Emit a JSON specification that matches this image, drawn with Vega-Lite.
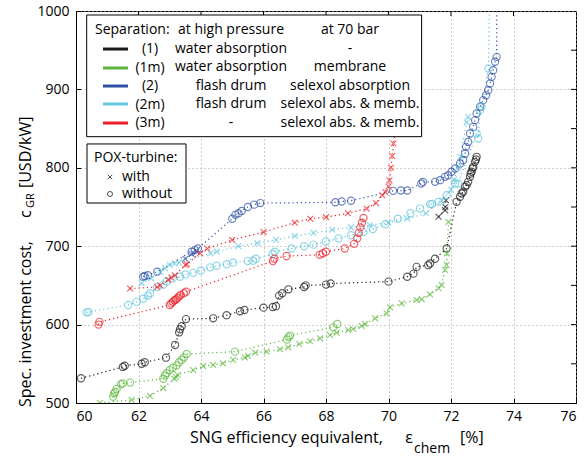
{
  "$schema": "https://vega.github.io/schema/vega-lite/v6.json",
  "width": 500,
  "height": 392,
  "autosize": "none",
  "padding": {"left": 76, "top": 11, "right": 8, "bottom": 54},
  "background": "white",
  "config": {
    "font": "Open Sans",
    "view": {"stroke": "black", "strokeWidth": 1},
    "axis": {
      "domainColor": "black",
      "tickColor": "black",
      "tickSize": -5,
      "labelFontSize": 14,
      "labelColor": "black",
      "gridColor": "#9a9a9a",
      "gridDash": [1, 3],
      "gridWidth": 1
    },
    "text": {"font": "Open Sans", "color": "black"}
  },
  "datasets": {
    "xticks": [{"t": 62}, {"t": 64}, {"t": 66}, {"t": 68}, {"t": 70}, {"t": 72}, {"t": 74}],
    "yticks": [{"t": 550}, {"t": 600}, {"t": 650}, {"t": 700}, {"t": 750}, {"t": 800}, {"t": 850}, {"t": 900}, {"t": 950}],
    "runs": [
      {"eff": 60.16, "cost": 531.5, "cfg": "1", "pox": "without"},
      {"eff": 61.5, "cost": 546, "cfg": "1", "pox": "without"},
      {"eff": 61.56, "cost": 547.5, "cfg": "1", "pox": "without"},
      {"eff": 62.1, "cost": 550, "cfg": "1", "pox": "without"},
      {"eff": 62.2, "cost": 552, "cfg": "1", "pox": "without"},
      {"eff": 62.88, "cost": 557.8, "cfg": "1", "pox": "without"},
      {"eff": 63.17, "cost": 574, "cfg": "1", "pox": "without"},
      {"eff": 63.3, "cost": 590, "cfg": "1", "pox": "without"},
      {"eff": 63.33, "cost": 594, "cfg": "1", "pox": "without"},
      {"eff": 63.38, "cost": 598, "cfg": "1", "pox": "without"},
      {"eff": 63.52, "cost": 607, "cfg": "1", "pox": "without"},
      {"eff": 64.39, "cost": 608, "cfg": "1", "pox": "without"},
      {"eff": 64.82, "cost": 612, "cfg": "1", "pox": "without"},
      {"eff": 65.25, "cost": 617, "cfg": "1", "pox": "without"},
      {"eff": 65.39, "cost": 618.6, "cfg": "1", "pox": "without"},
      {"eff": 66.0, "cost": 621.6, "cfg": "1", "pox": "without"},
      {"eff": 66.3, "cost": 622.5, "cfg": "1", "pox": "without"},
      {"eff": 66.4, "cost": 623.5, "cfg": "1", "pox": "without"},
      {"eff": 66.5, "cost": 637, "cfg": "1", "pox": "without"},
      {"eff": 66.6, "cost": 640, "cfg": "1", "pox": "without"},
      {"eff": 66.8, "cost": 645, "cfg": "1", "pox": "without"},
      {"eff": 67.3, "cost": 648, "cfg": "1", "pox": "without"},
      {"eff": 67.35, "cost": 650, "cfg": "1", "pox": "without"},
      {"eff": 68.0, "cost": 651, "cfg": "1", "pox": "without"},
      {"eff": 68.15, "cost": 652.5, "cfg": "1", "pox": "without"},
      {"eff": 70.0, "cost": 654.8, "cfg": "1", "pox": "without"},
      {"eff": 70.6, "cost": 661, "cfg": "1", "pox": "without"},
      {"eff": 70.8, "cost": 665, "cfg": "1", "pox": "without"},
      {"eff": 70.9, "cost": 673.6, "cfg": "1", "pox": "without"},
      {"eff": 71.27, "cost": 675.8, "cfg": "1", "pox": "without"},
      {"eff": 71.33, "cost": 678, "cfg": "1", "pox": "without"},
      {"eff": 71.49, "cost": 684, "cfg": "1", "pox": "without"},
      {"eff": 71.86, "cost": 697, "cfg": "1", "pox": "without"},
      {"eff": 72.18, "cost": 756.6, "cfg": "1", "pox": "without"},
      {"eff": 72.29, "cost": 763, "cfg": "1", "pox": "without"},
      {"eff": 72.34, "cost": 767.2, "cfg": "1", "pox": "without"},
      {"eff": 72.39, "cost": 769.4, "cfg": "1", "pox": "without"},
      {"eff": 72.45, "cost": 775.8, "cfg": "1", "pox": "without"},
      {"eff": 72.5, "cost": 777.9, "cfg": "1", "pox": "without"},
      {"eff": 72.55, "cost": 782.1, "cfg": "1", "pox": "without"},
      {"eff": 72.61, "cost": 788.5, "cfg": "1", "pox": "without"},
      {"eff": 72.63, "cost": 792.7, "cfg": "1", "pox": "without"},
      {"eff": 72.66, "cost": 794.9, "cfg": "1", "pox": "without"},
      {"eff": 72.69, "cost": 799.1, "cfg": "1", "pox": "without"},
      {"eff": 72.71, "cost": 801.2, "cfg": "1", "pox": "without"},
      {"eff": 72.77, "cost": 807.6, "cfg": "1", "pox": "without"},
      {"eff": 72.8, "cost": 810.6, "cfg": "1", "pox": "without"},
      {"eff": 72.82, "cost": 814, "cfg": "1", "pox": "without"},

      {"eff": 71.6, "cost": 737.5, "cfg": "1", "pox": "with"},
      {"eff": 71.81, "cost": 746, "cfg": "1", "pox": "with"},
      {"eff": 71.82, "cost": 750, "cfg": "1", "pox": "with"},
      {"eff": 71.84, "cost": 758.7, "cfg": "1", "pox": "with"},

      {"eff": 61.19, "cost": 508, "cfg": "1m", "pox": "without"},
      {"eff": 61.22, "cost": 512, "cfg": "1m", "pox": "without"},
      {"eff": 61.25, "cost": 514, "cfg": "1m", "pox": "without"},
      {"eff": 61.3, "cost": 518, "cfg": "1m", "pox": "without"},
      {"eff": 61.44, "cost": 524, "cfg": "1m", "pox": "without"},
      {"eff": 61.5, "cost": 525, "cfg": "1m", "pox": "without"},
      {"eff": 61.73, "cost": 526, "cfg": "1m", "pox": "without"},
      {"eff": 62.79, "cost": 531, "cfg": "1m", "pox": "without"},
      {"eff": 62.85, "cost": 535, "cfg": "1m", "pox": "without"},
      {"eff": 62.9, "cost": 538, "cfg": "1m", "pox": "without"},
      {"eff": 63.0, "cost": 542, "cfg": "1m", "pox": "without"},
      {"eff": 63.1, "cost": 545, "cfg": "1m", "pox": "without"},
      {"eff": 63.22, "cost": 548, "cfg": "1m", "pox": "without"},
      {"eff": 63.3, "cost": 552, "cfg": "1m", "pox": "without"},
      {"eff": 63.38, "cost": 555, "cfg": "1m", "pox": "without"},
      {"eff": 63.45, "cost": 558, "cfg": "1m", "pox": "without"},
      {"eff": 63.54, "cost": 562.5, "cfg": "1m", "pox": "without"},
      {"eff": 65.09, "cost": 565.5, "cfg": "1m", "pox": "without"},
      {"eff": 66.75, "cost": 581, "cfg": "1m", "pox": "without"},
      {"eff": 66.8, "cost": 584, "cfg": "1m", "pox": "without"},
      {"eff": 66.85, "cost": 586, "cfg": "1m", "pox": "without"},
      {"eff": 68.23, "cost": 596.5, "cfg": "1m", "pox": "without"},
      {"eff": 68.36, "cost": 600.7, "cfg": "1m", "pox": "without"},

      {"eff": 60.77, "cost": 500, "cfg": "1m", "pox": "with"},
      {"eff": 61.78, "cost": 504, "cfg": "1m", "pox": "with"},
      {"eff": 62.37, "cost": 509, "cfg": "1m", "pox": "with"},
      {"eff": 62.79, "cost": 519, "cfg": "1m", "pox": "with"},
      {"eff": 63.15, "cost": 531, "cfg": "1m", "pox": "with"},
      {"eff": 63.2, "cost": 533, "cfg": "1m", "pox": "with"},
      {"eff": 63.25, "cost": 536, "cfg": "1m", "pox": "with"},
      {"eff": 63.75, "cost": 542, "cfg": "1m", "pox": "with"},
      {"eff": 64.07, "cost": 547, "cfg": "1m", "pox": "with"},
      {"eff": 64.39, "cost": 548.5, "cfg": "1m", "pox": "with"},
      {"eff": 64.7, "cost": 550.6, "cfg": "1m", "pox": "with"},
      {"eff": 65.03, "cost": 555, "cfg": "1m", "pox": "with"},
      {"eff": 65.4, "cost": 558, "cfg": "1m", "pox": "with"},
      {"eff": 65.5, "cost": 560, "cfg": "1m", "pox": "with"},
      {"eff": 65.73, "cost": 564.2, "cfg": "1m", "pox": "with"},
      {"eff": 66.1, "cost": 565.5, "cfg": "1m", "pox": "with"},
      {"eff": 66.53, "cost": 568.5, "cfg": "1m", "pox": "with"},
      {"eff": 66.79, "cost": 571, "cfg": "1m", "pox": "with"},
      {"eff": 67.15, "cost": 575.3, "cfg": "1m", "pox": "with"},
      {"eff": 67.49, "cost": 578.7, "cfg": "1m", "pox": "with"},
      {"eff": 67.81, "cost": 582.5, "cfg": "1m", "pox": "with"},
      {"eff": 68.13, "cost": 586.7, "cfg": "1m", "pox": "with"},
      {"eff": 68.34, "cost": 589.7, "cfg": "1m", "pox": "with"},
      {"eff": 68.71, "cost": 593.1, "cfg": "1m", "pox": "with"},
      {"eff": 68.87, "cost": 594.4, "cfg": "1m", "pox": "with"},
      {"eff": 69.14, "cost": 598.2, "cfg": "1m", "pox": "with"},
      {"eff": 69.25, "cost": 600.8, "cfg": "1m", "pox": "with"},
      {"eff": 69.57, "cost": 608, "cfg": "1m", "pox": "with"},
      {"eff": 69.94, "cost": 614.4, "cfg": "1m", "pox": "with"},
      {"eff": 70.05, "cost": 622, "cfg": "1m", "pox": "with"},
      {"eff": 70.42, "cost": 627.1, "cfg": "1m", "pox": "with"},
      {"eff": 70.9, "cost": 631.4, "cfg": "1m", "pox": "with"},
      {"eff": 71.06, "cost": 632.2, "cfg": "1m", "pox": "with"},
      {"eff": 71.33, "cost": 638.6, "cfg": "1m", "pox": "with"},
      {"eff": 71.6, "cost": 646.3, "cfg": "1m", "pox": "with"},
      {"eff": 71.7, "cost": 650.5, "cfg": "1m", "pox": "with"},
      {"eff": 71.81, "cost": 669.6, "cfg": "1m", "pox": "with"},
      {"eff": 71.86, "cost": 676, "cfg": "1m", "pox": "with"},
      {"eff": 71.87, "cost": 690.9, "cfg": "1m", "pox": "with"},
      {"eff": 71.92, "cost": 731, "cfg": "1m", "pox": "with"},

      {"eff": 62.15, "cost": 661, "cfg": "2", "pox": "without"},
      {"eff": 62.2, "cost": 662, "cfg": "2", "pox": "without"},
      {"eff": 62.3, "cost": 663, "cfg": "2", "pox": "without"},
      {"eff": 62.6, "cost": 667.5, "cfg": "2", "pox": "without"},
      {"eff": 63.7, "cost": 693, "cfg": "2", "pox": "without"},
      {"eff": 63.8, "cost": 695, "cfg": "2", "pox": "without"},
      {"eff": 63.9, "cost": 697, "cfg": "2", "pox": "without"},
      {"eff": 65.0, "cost": 735, "cfg": "2", "pox": "without"},
      {"eff": 65.1, "cost": 740, "cfg": "2", "pox": "without"},
      {"eff": 65.2, "cost": 742, "cfg": "2", "pox": "without"},
      {"eff": 65.3, "cost": 745, "cfg": "2", "pox": "without"},
      {"eff": 65.5, "cost": 750, "cfg": "2", "pox": "without"},
      {"eff": 65.7, "cost": 753, "cfg": "2", "pox": "without"},
      {"eff": 65.9, "cost": 755, "cfg": "2", "pox": "without"},
      {"eff": 68.3, "cost": 756, "cfg": "2", "pox": "without"},
      {"eff": 68.5, "cost": 757, "cfg": "2", "pox": "without"},
      {"eff": 68.8, "cost": 758, "cfg": "2", "pox": "without"},
      {"eff": 70.15, "cost": 770.6, "cfg": "2", "pox": "without"},
      {"eff": 70.4, "cost": 771, "cfg": "2", "pox": "without"},
      {"eff": 70.6, "cost": 771, "cfg": "2", "pox": "without"},
      {"eff": 71.05, "cost": 780, "cfg": "2", "pox": "without"},
      {"eff": 71.1, "cost": 782, "cfg": "2", "pox": "without"},
      {"eff": 71.49, "cost": 782.1, "cfg": "2", "pox": "without"},
      {"eff": 71.65, "cost": 784.2, "cfg": "2", "pox": "without"},
      {"eff": 71.81, "cost": 788.5, "cfg": "2", "pox": "without"},
      {"eff": 71.91, "cost": 790.6, "cfg": "2", "pox": "without"},
      {"eff": 72.02, "cost": 794.9, "cfg": "2", "pox": "without"},
      {"eff": 72.13, "cost": 799.1, "cfg": "2", "pox": "without"},
      {"eff": 72.29, "cost": 805.5, "cfg": "2", "pox": "without"},
      {"eff": 72.39, "cost": 809.7, "cfg": "2", "pox": "without"},
      {"eff": 72.45, "cost": 818.2, "cfg": "2", "pox": "without"},
      {"eff": 72.48, "cost": 826.7, "cfg": "2", "pox": "without"},
      {"eff": 72.55, "cost": 833, "cfg": "2", "pox": "without"},
      {"eff": 72.61, "cost": 843.7, "cfg": "2", "pox": "without"},
      {"eff": 72.71, "cost": 852.2, "cfg": "2", "pox": "without"},
      {"eff": 72.77, "cost": 860.8, "cfg": "2", "pox": "without"},
      {"eff": 72.82, "cost": 869.3, "cfg": "2", "pox": "without"},
      {"eff": 72.93, "cost": 877.8, "cfg": "2", "pox": "without"},
      {"eff": 73.03, "cost": 886.3, "cfg": "2", "pox": "without"},
      {"eff": 73.12, "cost": 892.6, "cfg": "2", "pox": "without"},
      {"eff": 73.19, "cost": 899, "cfg": "2", "pox": "without"},
      {"eff": 73.25, "cost": 907.5, "cfg": "2", "pox": "without"},
      {"eff": 73.3, "cost": 916, "cfg": "2", "pox": "without"},
      {"eff": 73.35, "cost": 924.5, "cfg": "2", "pox": "without"},
      {"eff": 73.41, "cost": 935.2, "cfg": "2", "pox": "without"},
      {"eff": 73.46, "cost": 941.5, "cfg": "2", "pox": "without"},
      {"eff": 73.47, "cost": 1060, "cfg": "2", "pox": "without"},

      {"eff": 63.5, "cost": 684, "cfg": "2", "pox": "with"},
      {"eff": 63.7, "cost": 690, "cfg": "2", "pox": "with"},
      {"eff": 63.85, "cost": 694, "cfg": "2", "pox": "with"},

      {"eff": 60.34, "cost": 615.6, "cfg": "2m", "pox": "without"},
      {"eff": 60.4, "cost": 616, "cfg": "2m", "pox": "without"},
      {"eff": 61.67, "cost": 625, "cfg": "2m", "pox": "without"},
      {"eff": 61.94, "cost": 629, "cfg": "2m", "pox": "without"},
      {"eff": 62.15, "cost": 633, "cfg": "2m", "pox": "without"},
      {"eff": 62.3, "cost": 637, "cfg": "2m", "pox": "without"},
      {"eff": 62.37, "cost": 640, "cfg": "2m", "pox": "without"},
      {"eff": 62.6, "cost": 648, "cfg": "2m", "pox": "without"},
      {"eff": 62.8, "cost": 651, "cfg": "2m", "pox": "without"},
      {"eff": 62.9, "cost": 655, "cfg": "2m", "pox": "without"},
      {"eff": 63.1, "cost": 659, "cfg": "2m", "pox": "without"},
      {"eff": 63.33, "cost": 661, "cfg": "2m", "pox": "without"},
      {"eff": 63.5, "cost": 664, "cfg": "2m", "pox": "without"},
      {"eff": 63.75, "cost": 666, "cfg": "2m", "pox": "without"},
      {"eff": 64.0, "cost": 669, "cfg": "2m", "pox": "without"},
      {"eff": 64.29, "cost": 673, "cfg": "2m", "pox": "without"},
      {"eff": 64.5, "cost": 675, "cfg": "2m", "pox": "without"},
      {"eff": 64.82, "cost": 677, "cfg": "2m", "pox": "without"},
      {"eff": 65.03, "cost": 679, "cfg": "2m", "pox": "without"},
      {"eff": 65.5, "cost": 681, "cfg": "2m", "pox": "without"},
      {"eff": 65.67, "cost": 681.5, "cfg": "2m", "pox": "without"},
      {"eff": 65.75, "cost": 684, "cfg": "2m", "pox": "without"},
      {"eff": 66.3, "cost": 690, "cfg": "2m", "pox": "without"},
      {"eff": 66.36, "cost": 693, "cfg": "2m", "pox": "without"},
      {"eff": 66.9, "cost": 697, "cfg": "2m", "pox": "without"},
      {"eff": 67.3, "cost": 700, "cfg": "2m", "pox": "without"},
      {"eff": 67.6, "cost": 702, "cfg": "2m", "pox": "without"},
      {"eff": 68.0, "cost": 706, "cfg": "2m", "pox": "without"},
      {"eff": 68.4, "cost": 710, "cfg": "2m", "pox": "without"},
      {"eff": 68.8, "cost": 714, "cfg": "2m", "pox": "without"},
      {"eff": 69.2, "cost": 718, "cfg": "2m", "pox": "without"},
      {"eff": 69.5, "cost": 722, "cfg": "2m", "pox": "without"},
      {"eff": 69.9, "cost": 728, "cfg": "2m", "pox": "without"},
      {"eff": 70.3, "cost": 735, "cfg": "2m", "pox": "without"},
      {"eff": 70.7, "cost": 742, "cfg": "2m", "pox": "without"},
      {"eff": 71.01, "cost": 748, "cfg": "2m", "pox": "without"},
      {"eff": 71.33, "cost": 753.6, "cfg": "2m", "pox": "without"},
      {"eff": 71.4, "cost": 754, "cfg": "2m", "pox": "without"},
      {"eff": 71.6, "cost": 756.6, "cfg": "2m", "pox": "without"},
      {"eff": 71.86, "cost": 765, "cfg": "2m", "pox": "without"},
      {"eff": 72.13, "cost": 780, "cfg": "2m", "pox": "without"},
      {"eff": 72.23, "cost": 780, "cfg": "2m", "pox": "without"},
      {"eff": 72.82, "cost": 843.7, "cfg": "2m", "pox": "without"},
      {"eff": 72.87, "cost": 837.4, "cfg": "2m", "pox": "without"},
      {"eff": 72.93, "cost": 873.5, "cfg": "2m", "pox": "without"},
      {"eff": 72.98, "cost": 877.8, "cfg": "2m", "pox": "without"},
      {"eff": 73.2, "cost": 926.6, "cfg": "2m", "pox": "without"},
      {"eff": 73.25, "cost": 1060, "cfg": "2m", "pox": "without"},

      {"eff": 62.1, "cost": 652.6, "cfg": "2m", "pox": "with"},
      {"eff": 62.4, "cost": 659, "cfg": "2m", "pox": "with"},
      {"eff": 62.7, "cost": 667, "cfg": "2m", "pox": "with"},
      {"eff": 62.85, "cost": 672, "cfg": "2m", "pox": "with"},
      {"eff": 63.0, "cost": 676, "cfg": "2m", "pox": "with"},
      {"eff": 63.15, "cost": 678, "cfg": "2m", "pox": "with"},
      {"eff": 63.3, "cost": 679, "cfg": "2m", "pox": "with"},
      {"eff": 64.3, "cost": 691, "cfg": "2m", "pox": "with"},
      {"eff": 64.5, "cost": 693, "cfg": "2m", "pox": "with"},
      {"eff": 65.2, "cost": 700, "cfg": "2m", "pox": "with"},
      {"eff": 65.8, "cost": 704, "cfg": "2m", "pox": "with"},
      {"eff": 66.4, "cost": 708, "cfg": "2m", "pox": "with"},
      {"eff": 67.0, "cost": 713, "cfg": "2m", "pox": "with"},
      {"eff": 67.6, "cost": 717, "cfg": "2m", "pox": "with"},
      {"eff": 68.2, "cost": 721, "cfg": "2m", "pox": "with"},
      {"eff": 68.8, "cost": 724, "cfg": "2m", "pox": "with"},
      {"eff": 69.4, "cost": 727, "cfg": "2m", "pox": "with"},
      {"eff": 70.0, "cost": 730, "cfg": "2m", "pox": "with"},
      {"eff": 70.6, "cost": 735, "cfg": "2m", "pox": "with"},
      {"eff": 71.2, "cost": 742, "cfg": "2m", "pox": "with"},
      {"eff": 71.7, "cost": 758, "cfg": "2m", "pox": "with"},
      {"eff": 72.0, "cost": 772, "cfg": "2m", "pox": "with"},
      {"eff": 72.1, "cost": 785, "cfg": "2m", "pox": "with"},
      {"eff": 72.23, "cost": 800, "cfg": "2m", "pox": "with"},
      {"eff": 72.3, "cost": 814, "cfg": "2m", "pox": "with"},
      {"eff": 72.5, "cost": 858, "cfg": "2m", "pox": "with"},
      {"eff": 72.55, "cost": 865, "cfg": "2m", "pox": "with"},

      {"eff": 60.72, "cost": 600, "cfg": "3m", "pox": "without"},
      {"eff": 60.75, "cost": 603.5, "cfg": "3m", "pox": "without"},
      {"eff": 63.0, "cost": 625, "cfg": "3m", "pox": "without"},
      {"eff": 63.05, "cost": 627, "cfg": "3m", "pox": "without"},
      {"eff": 63.1, "cost": 629, "cfg": "3m", "pox": "without"},
      {"eff": 63.15, "cost": 631, "cfg": "3m", "pox": "without"},
      {"eff": 63.2, "cost": 632, "cfg": "3m", "pox": "without"},
      {"eff": 63.25, "cost": 634, "cfg": "3m", "pox": "without"},
      {"eff": 63.3, "cost": 636, "cfg": "3m", "pox": "without"},
      {"eff": 63.35, "cost": 638, "cfg": "3m", "pox": "without"},
      {"eff": 63.45, "cost": 640, "cfg": "3m", "pox": "without"},
      {"eff": 63.52, "cost": 642, "cfg": "3m", "pox": "without"},
      {"eff": 66.3, "cost": 681, "cfg": "3m", "pox": "without"},
      {"eff": 66.35, "cost": 684, "cfg": "3m", "pox": "without"},
      {"eff": 66.74, "cost": 687.5, "cfg": "3m", "pox": "without"},
      {"eff": 67.8, "cost": 689, "cfg": "3m", "pox": "without"},
      {"eff": 67.9, "cost": 691, "cfg": "3m", "pox": "without"},
      {"eff": 68.0, "cost": 693, "cfg": "3m", "pox": "without"},
      {"eff": 68.6, "cost": 697, "cfg": "3m", "pox": "without"},
      {"eff": 68.9, "cost": 703, "cfg": "3m", "pox": "without"},
      {"eff": 69.0, "cost": 710, "cfg": "3m", "pox": "without"},
      {"eff": 69.05, "cost": 717, "cfg": "3m", "pox": "without"},
      {"eff": 69.1, "cost": 724, "cfg": "3m", "pox": "without"},
      {"eff": 69.15, "cost": 730, "cfg": "3m", "pox": "without"},
      {"eff": 69.2, "cost": 736, "cfg": "3m", "pox": "without"},

      {"eff": 61.73, "cost": 646, "cfg": "3m", "pox": "with"},
      {"eff": 62.6, "cost": 648, "cfg": "3m", "pox": "with"},
      {"eff": 62.7, "cost": 650, "cfg": "3m", "pox": "with"},
      {"eff": 62.95, "cost": 657, "cfg": "3m", "pox": "with"},
      {"eff": 63.05, "cost": 660, "cfg": "3m", "pox": "with"},
      {"eff": 63.17, "cost": 663, "cfg": "3m", "pox": "with"},
      {"eff": 63.5, "cost": 676, "cfg": "3m", "pox": "with"},
      {"eff": 63.55, "cost": 677, "cfg": "3m", "pox": "with"},
      {"eff": 63.97, "cost": 691, "cfg": "3m", "pox": "with"},
      {"eff": 64.2, "cost": 697, "cfg": "3m", "pox": "with"},
      {"eff": 65.0, "cost": 708, "cfg": "3m", "pox": "with"},
      {"eff": 66.0, "cost": 718, "cfg": "3m", "pox": "with"},
      {"eff": 67.0, "cost": 730, "cfg": "3m", "pox": "with"},
      {"eff": 67.5, "cost": 735, "cfg": "3m", "pox": "with"},
      {"eff": 68.0, "cost": 737, "cfg": "3m", "pox": "with"},
      {"eff": 68.7, "cost": 742, "cfg": "3m", "pox": "with"},
      {"eff": 69.3, "cost": 748, "cfg": "3m", "pox": "with"},
      {"eff": 69.6, "cost": 755, "cfg": "3m", "pox": "with"},
      {"eff": 69.8, "cost": 765, "cfg": "3m", "pox": "with"},
      {"eff": 69.9, "cost": 769, "cfg": "3m", "pox": "with"},
      {"eff": 70.0, "cost": 776, "cfg": "3m", "pox": "with"},
      {"eff": 70.03, "cost": 784, "cfg": "3m", "pox": "with"},
      {"eff": 70.08, "cost": 800, "cfg": "3m", "pox": "with"},
      {"eff": 70.12, "cost": 815, "cfg": "3m", "pox": "with"},
      {"eff": 70.16, "cost": 831, "cfg": "3m", "pox": "with"},
      {"eff": 70.22, "cost": 846, "cfg": "3m", "pox": "with"},
      {"eff": 70.28, "cost": 860, "cfg": "3m", "pox": "with"}
    ]
  },
  "layer": [
    {
      "data": {"name": "runs"},
      "mark": {"type": "line", "clip": true, "strokeDash": [1.2, 3], "strokeWidth": 1.2},
      "encoding": {
        "x": {
          "field": "eff", "type": "quantitative",
          "scale": {"domain": [60, 76], "nice": false, "zero": false},
          "axis": {"values": [60, 62, 64, 66, 68, 70, 72, 74, 76], "title": null, "grid": true, "labelPadding": 11}
        },
        "y": {
          "field": "cost", "type": "quantitative",
          "scale": {"domain": [500, 1000], "nice": false, "zero": false},
          "axis": {"values": [500, 550, 600, 650, 700, 750, 800, 850, 900, 950, 1000], "format": "d", "title": null, "grid": true, "labelPadding": 12}
        },
        "color": {
          "field": "cfg", "type": "nominal",
          "scale": {"domain": ["1", "1m", "2", "2m", "3m"], "range": ["#1a1a1a", "#5cb83c", "#2f50a4", "#62c6de", "#ec2027"]},
          "legend": null
        },
        "detail": {"field": "pox"}
      }
    },
    {
      "data": {"name": "runs"},
      "mark": {"type": "point", "clip": true, "filled": false, "strokeWidth": 1.15},
      "encoding": {
        "x": {"field": "eff", "type": "quantitative"},
        "y": {"field": "cost", "type": "quantitative"},
        "color": {"field": "cfg", "type": "nominal", "legend": null},
        "shape": {
          "field": "pox", "type": "nominal",
          "scale": {"domain": ["with", "without"], "range": ["M-1,-1L1,1M-1,1L1,-1", "circle"]},
          "legend": null
        },
        "size": {"field": "pox", "type": "nominal", "scale": {"domain": ["with", "without"], "range": [34, 52]}, "legend": null}
      }
    },
    {
      "data": {"name": "xticks"},
      "mark": {"type": "rule", "color": "black", "strokeWidth": 1},
      "encoding": {
        "x": {"field": "t", "type": "quantitative", "axis": {"values": [60, 62, 64, 66, 68, 70, 72, 74, 76], "title": null, "grid": true, "labelPadding": 11}},
        "y": {"datum": 1000},
        "y2": {"datum": 993.6}
      }
    },
    {
      "data": {"name": "yticks"},
      "mark": {"type": "rule", "color": "black", "strokeWidth": 1},
      "encoding": {
        "y": {"field": "t", "type": "quantitative", "axis": {"values": [500, 550, 600, 650, 700, 750, 800, 850, 900, 950, 1000], "format": "d", "title": null, "grid": true, "labelPadding": 12}},
        "x": {"datum": 76},
        "x2": {"datum": 75.84}
      }
    },
    {
      "data": {"values": [{}]},
      "mark": {"type": "rect", "fill": "white", "stroke": "black", "strokeWidth": 1},
      "encoding": {"x": {"datum": 60.342}, "x2": {"datum": 71.06}, "y": {"datum": 994.9}, "y2": {"datum": 839.7}}
    },
    {
      "data": {"values": [{}]},
      "mark": {"type": "text", "align": "left", "baseline": "middle", "fontSize": 14},
      "encoding": {"x": {"datum": 60.608}, "y": {"datum": 975.8}, "text": {"value": "Separation:"}}
    },
    {
      "data": {"values": [{}]},
      "mark": {"type": "text", "align": "center", "baseline": "middle", "fontSize": 14, "lineHeight": 18.6},
      "encoding": {"x": {"datum": 62.368}, "y": {"datum": 951.5}, "text": {"value": ["(1)", "(1m)", "(2)", "(2m)", "(3m)"]}}
    },
    {
      "data": {"values": [{}]},
      "mark": {"type": "text", "align": "center", "baseline": "middle", "fontSize": 14, "lineHeight": 18.6},
      "encoding": {"x": {"datum": 64.96}, "y": {"datum": 975.8}, "text": {"value": ["at high pressure", "water absorption", "water absorption", "flash drum", "flash drum", "-"]}}
    },
    {
      "data": {"values": [{}]},
      "mark": {"type": "text", "align": "center", "baseline": "middle", "fontSize": 14, "lineHeight": 18.6},
      "encoding": {"x": {"datum": 68.768}, "y": {"datum": 975.8}, "text": {"value": ["at 70 bar", "-", "membrane", "selexol absorption", "selexol abs. & memb.", "selexol abs. & memb."]}}
    },
    {
      "data": {"values": [{}]},
      "mark": {"type": "rule", "color": "#1a1a1a", "strokeWidth": 3},
      "encoding": {"x": {"datum": 60.864}, "x2": {"datum": 61.664}, "y": {"datum": 951.5}}
    },
    {
      "data": {"values": [{}]},
      "mark": {"type": "rule", "color": "#5cb83c", "strokeWidth": 3},
      "encoding": {"x": {"datum": 60.864}, "x2": {"datum": 61.664}, "y": {"datum": 927.3}}
    },
    {
      "data": {"values": [{}]},
      "mark": {"type": "rule", "color": "#2f50a4", "strokeWidth": 3},
      "encoding": {"x": {"datum": 60.864}, "x2": {"datum": 61.664}, "y": {"datum": 904.3}}
    },
    {
      "data": {"values": [{}]},
      "mark": {"type": "rule", "color": "#62c6de", "strokeWidth": 3},
      "encoding": {"x": {"datum": 60.864}, "x2": {"datum": 61.664}, "y": {"datum": 881.4}}
    },
    {
      "data": {"values": [{}]},
      "mark": {"type": "rule", "color": "#ec2027", "strokeWidth": 3},
      "encoding": {"x": {"datum": 60.864}, "x2": {"datum": 61.664}, "y": {"datum": 857.1}}
    },
    {
      "data": {"values": [{}]},
      "mark": {"type": "rect", "fill": "white", "stroke": "black", "strokeWidth": 1},
      "encoding": {"x": {"datum": 60.352}, "x2": {"datum": 63.52}, "y": {"datum": 830.4}, "y2": {"datum": 755.1}}
    },
    {
      "data": {"values": [{}]},
      "mark": {"type": "text", "align": "left", "baseline": "middle", "fontSize": 14},
      "encoding": {"x": {"datum": 60.576}, "y": {"datum": 812.5}, "text": {"value": "POX-turbine:"}}
    },
    {
      "data": {"values": [{}]},
      "mark": {"type": "text", "align": "left", "baseline": "middle", "fontSize": 14, "lineHeight": 17},
      "encoding": {"x": {"datum": 61.472}, "y": {"datum": 788.3}, "text": {"value": ["with", "without"]}}
    },
    {
      "data": {"values": [{}]},
      "mark": {"type": "point", "shape": "M-1,-1L1,1M-1,1L1,-1", "size": 20, "color": "black", "strokeWidth": 1},
      "encoding": {"x": {"datum": 61.088}, "y": {"datum": 788.3}}
    },
    {
      "data": {"values": [{}]},
      "mark": {"type": "point", "shape": "circle", "size": 25, "color": "black", "strokeWidth": 1, "filled": false},
      "encoding": {"x": {"datum": 61.088}, "y": {"datum": 766.6}}
    },
    {
      "data": {"values": [{}]},
      "mark": {"type": "text", "align": "right", "baseline": "alphabetic", "fontSize": 16},
      "encoding": {"x": {"datum": 69.82}, "y": {"datum": 449}, "text": {"value": "SNG efficiency equivalent,"}}
    },
    {
      "data": {"values": [{}]},
      "mark": {"type": "text", "align": "center", "baseline": "alphabetic", "fontSize": 16},
      "encoding": {"x": {"datum": 70.66}, "y": {"datum": 449}, "text": {"value": "ε"}}
    },
    {
      "data": {"values": [{}]},
      "mark": {"type": "text", "align": "left", "baseline": "alphabetic", "fontSize": 14},
      "encoding": {"x": {"datum": 70.816}, "y": {"datum": 436.5}, "text": {"value": "chem"}}
    },
    {
      "data": {"values": [{}]},
      "mark": {"type": "text", "align": "left", "baseline": "alphabetic", "fontSize": 16},
      "encoding": {"x": {"datum": 72.29}, "y": {"datum": 449}, "text": {"value": "[%]"}}
    },
    {
      "data": {"values": [{}]},
      "mark": {"type": "text", "align": "left", "baseline": "alphabetic", "fontSize": 16, "angle": 270},
      "encoding": {"x": {"datum": 58.56}, "y": {"datum": 494.9}, "text": {"value": "Spec. investment cost,"}}
    },
    {
      "data": {"values": [{}]},
      "mark": {"type": "text", "align": "left", "baseline": "alphabetic", "fontSize": 16, "angle": 270},
      "encoding": {"x": {"datum": 58.56}, "y": {"datum": 736}, "text": {"value": "c"}}
    },
    {
      "data": {"values": [{}]},
      "mark": {"type": "text", "align": "left", "baseline": "alphabetic", "fontSize": 11, "angle": 270},
      "encoding": {"x": {"datum": 58.67}, "y": {"datum": 748.7}, "text": {"value": "GR"}}
    },
    {
      "data": {"values": [{}]},
      "mark": {"type": "text", "align": "left", "baseline": "alphabetic", "fontSize": 16, "angle": 270},
      "encoding": {"x": {"datum": 58.56}, "y": {"datum": 774.2}, "text": {"value": "[USD/kW]"}}
    }
  ]
}
